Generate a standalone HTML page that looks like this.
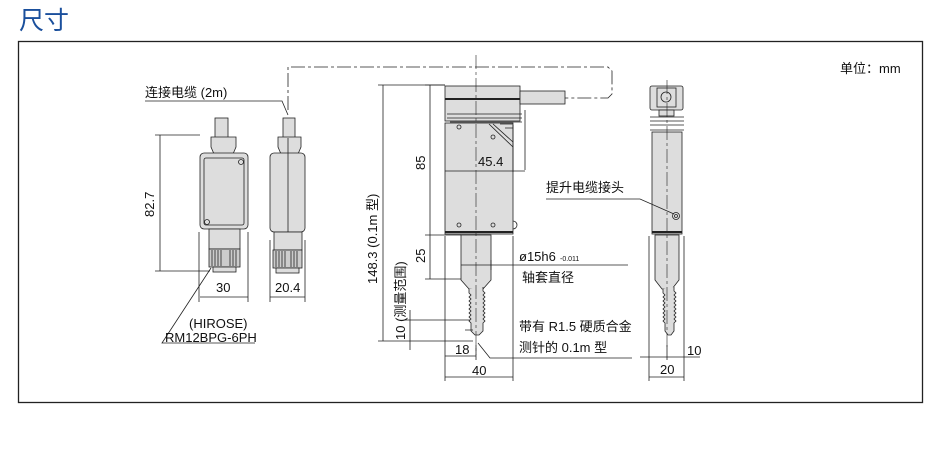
<!DOCTYPE html>
<html><head><meta charset="utf-8"><style>
html,body{margin:0;padding:0;background:#fff;width:950px;height:450px;overflow:hidden}
svg{display:block}
text{font-family:"Liberation Sans","Noto Sans CJK SC",sans-serif;fill:#111}
</style></head><body>
<svg width="950" height="450" viewBox="0 0 950 450" xmlns="http://www.w3.org/2000/svg">
<text x="19" y="29" font-size="25" style="fill:#1a4f9c">尺寸</text>
<rect x="18.5" y="41.5" width="904" height="361" fill="none" stroke="#222" stroke-width="1.3"/>
<text x="840" y="73" font-size="13">单位：mm</text>

<g stroke="#222" stroke-width="0.8" fill="none">
<!-- cable label & dashed cable -->
<polyline points="145,101 282,101 288,115"/>
<polyline points="288,110 288,67 608,67 612,71 612,94 608,98 560,98" stroke-dasharray="14,3,3,3"/>

<!-- left connector front -->
<rect x="215" y="118" width="13" height="20" fill="#ddd"/>
<path d="M211,137 h25 v10 l-3,7 h-19 l-3,-7z" fill="#ddd"/>
<rect x="200" y="153" width="48" height="76" rx="4" fill="#ddd"/>
<rect x="204" y="158" width="40" height="67" rx="2" fill="#ddd"/>
<circle cx="241" cy="162" r="2.5"/><circle cx="207" cy="222" r="2.5"/>
<rect x="209" y="229" width="31" height="20" fill="#ddd"/>
<rect x="209" y="249" width="31" height="18" fill="#ccc"/>
<path d="M212,250 v16 M215,250 v16 M218,250 v16 M221,250 v16 M230,250 v16 M233,250 v16 M236,250 v16"/>
<rect x="213" y="267" width="23" height="5" fill="#ddd"/>
<!-- side -->
<rect x="283" y="118" width="12" height="20" fill="#ddd"/>
<path d="M278,137 h23 v10 l-3,7 h-17 l-3,-7z" fill="#ddd"/>
<rect x="270" y="153" width="35" height="79" rx="4" fill="#ddd"/>
<line x1="288" y1="138" x2="288" y2="232"/>
<circle cx="288" cy="236" r="2"/>
<rect x="274" y="232" width="28" height="18" fill="#ddd"/>
<rect x="273" y="250" width="29" height="18" fill="#ccc"/>
<path d="M276,251 v16 M279,251 v16 M282,251 v16 M285,251 v16 M291,251 v16 M294,251 v16 M297,251 v16"/>
<rect x="276" y="268" width="23" height="5" fill="#ddd"/>
<!-- dims left -->
<path d="M155,135 h45 M155,271 h55 M160,135 v136"/>
<path d="M199,232 v70 M248,232 v70 M200,297 h48 M270,240 v62 M305,240 v62 M270,297 h35"/>
<polyline points="211,268 162,343 255,343"/>

<!-- main body -->
<rect x="445" y="86" width="75" height="35" fill="#ddd"/>
<line x1="445" y1="99" x2="520" y2="99" stroke-width="2"/>
<rect x="520" y="91" width="45" height="13" fill="#ddd"/>
<path d="M447,114 h75 M447,118 h75 M450,122 h72" />
<rect x="445" y="123" width="68" height="111" fill="#ddd"/>
<path d="M489,124 l24,23 M493,124 l20,18 M500,124 h13 M505,128 h8"/>
<line x1="445" y1="232" x2="513" y2="232" stroke-width="2"/>
<circle cx="459" cy="127" r="2"/><circle cx="493" cy="137" r="2"/><circle cx="459" cy="225" r="2"/><circle cx="493" cy="225" r="2"/>
<path d="M513,221 a3,3 0 0 1 0,8"/>
<path d="M461,235 v45 l8,9 h14 l8,-9 v-45z" fill="#ddd"/>
<path d="M469,289 v4 l2,2 -2,2 2,2 -2,2 2,2 -2,2 2,2 -2,2 2,2 -2,2 2,2 -2,2 2,2 -2,2 2,2 v8 l4,4 h4 l4,-4 v-8 l2,-2 -2,-2 2,-2 -2,-2 2,-2 -2,-2 2,-2 -2,-2 2,-2 -2,-2 2,-2 -2,-2 2,-2 -2,-2 2,-2 -2,-2 v-4" fill="#ddd"/>
<line x1="476" y1="55" x2="476" y2="355" stroke-dasharray="14,3,3,3" stroke-width="0.6"/>
<!-- main dims -->
<path d="M378,85 h67 M383,85 v256 M378,341 h95"/>
<path d="M425,85 h20 M430,85 v150 M425,235 h36 M430,235 v44 M425,279 h36"/>
<path d="M405,320 h65 M410,310 v40 M465,330 h8"/>
<path d="M445,171 h80 M513,125 v47 M525,110 v60"/>
<path d="M445,236 v145 M513,236 v145 M445,377 h68 M445,356 h31 M476,345 v15"/>
<path d="M461,265 h167 M491,260 v10"/>
<polyline points="478,343 490,358 632,358"/>
<!-- right view -->
<rect x="650" y="86" width="33" height="24" rx="2" fill="#ddd"/>
<rect x="657" y="88" width="19" height="19" fill="#ddd"/>
<circle cx="666" cy="97" r="5"/>
<rect x="659" y="110" width="15" height="6" fill="#ddd"/>
<path d="M650,117 h34 M650,121 h34 M650,125 h34 M650,130 h34"/>
<rect x="652" y="132" width="30" height="102" fill="#ddd"/>
<line x1="652" y1="232" x2="682" y2="232" stroke-width="2"/>
<circle cx="676" cy="216" r="3.5"/><circle cx="676" cy="216" r="1.5"/>
<path d="M655,235 v45 l7,9 h10 l7,-9 v-45z" fill="#ddd"/>
<path d="M663,289 v4 l2,2 -2,2 2,2 -2,2 2,2 -2,2 2,2 -2,2 2,2 -2,2 2,2 -2,2 2,2 -2,2 2,2 v8 l3,4 h3 l3,-4 v-8 l2,-2 -2,-2 2,-2 -2,-2 2,-2 -2,-2 2,-2 -2,-2 2,-2 -2,-2 2,-2 -2,-2 2,-2 -2,-2 2,-2 -2,-2 v-4" fill="#ddd"/>
<line x1="667" y1="80" x2="667" y2="350" stroke-dasharray="14,3,3,3" stroke-width="0.6"/>
<path d="M649,236 v145 M684,236 v145 M649,377 h35 M640,357 h60 M667,345 v15"/>
<polyline points="546,199 640,199 674,214"/>
</g>

<g font-size="13">
<text x="145" y="97">连接电缆 (2m)</text>
<text transform="translate(154,217) rotate(-90)">82.7</text>
<text x="216" y="292">30</text>
<text x="275" y="292">20.4</text>
<text x="189" y="328">(HIROSE)</text>
<text x="165" y="342">RM12BPG-6PH</text>
<text transform="translate(377,284) rotate(-90)">148.3 (0.1m 型)</text>
<text transform="translate(425,170) rotate(-90)">85</text>
<text transform="translate(425,263) rotate(-90)">25</text>
<text transform="translate(405,340) rotate(-90)">10 (测量范围)</text>
<text x="478" y="166">45.4</text>
<text x="519" y="261">ø15h6</text><text x="560" y="261" font-size="7">-0.011</text>
<text x="522" y="282">轴套直径</text>
<text x="546" y="192">提升电缆接头</text>
<text x="519" y="331">带有 R1.5 硬质合金</text>
<text x="519" y="352">测针的 0.1m 型</text>
<text x="455" y="354">18</text>
<text x="472" y="375">40</text>
<text x="687" y="355">10</text>
<text x="660" y="374">20</text>
</g>
</svg>
</body></html>
